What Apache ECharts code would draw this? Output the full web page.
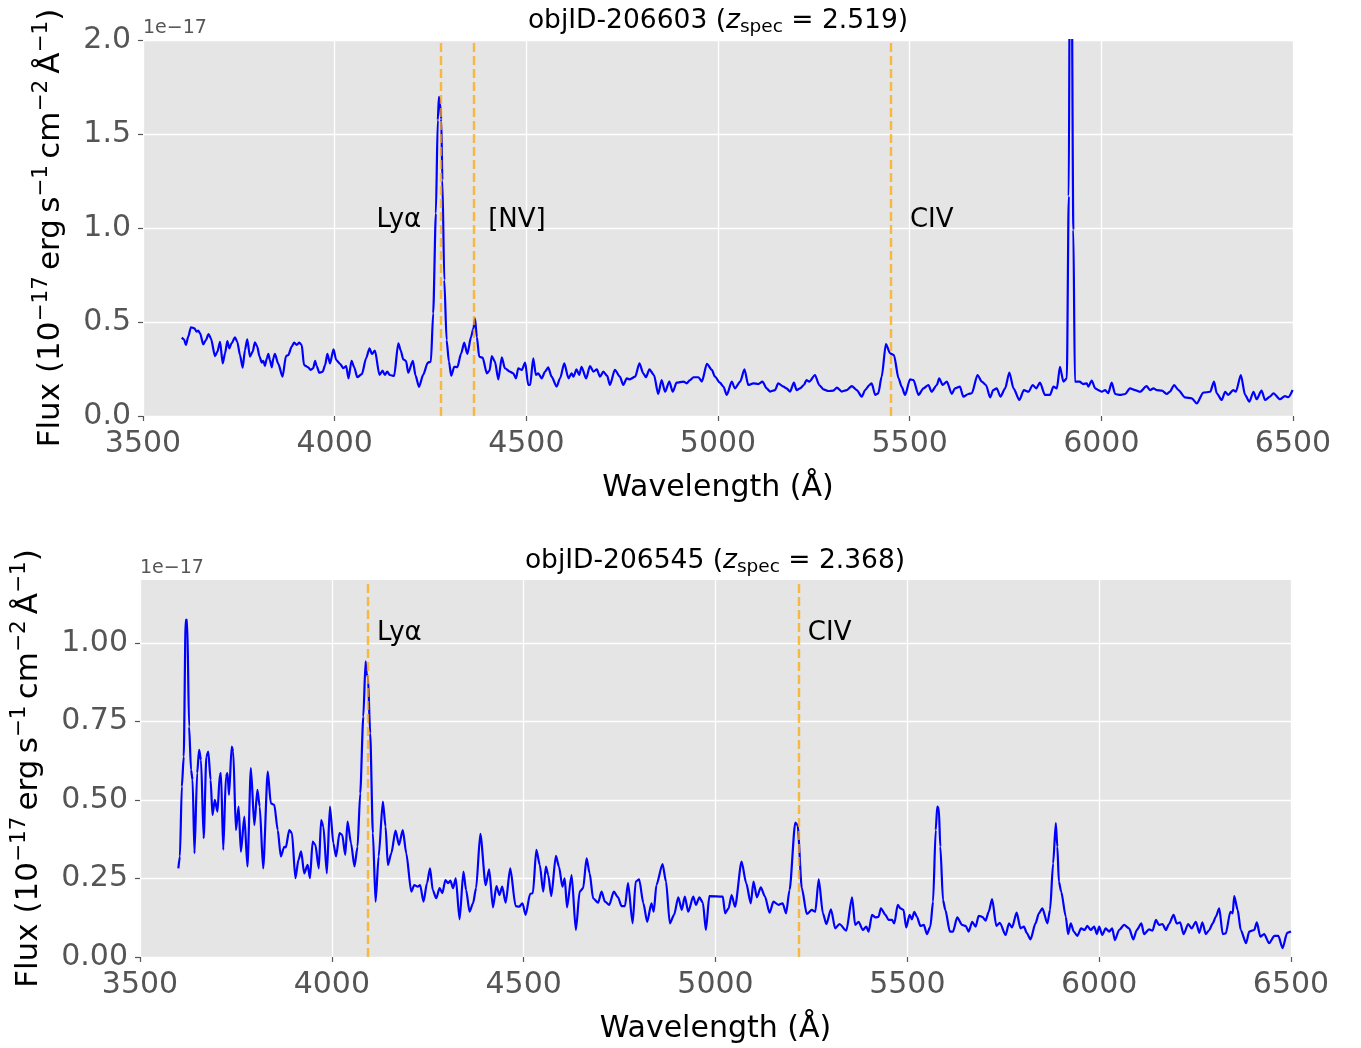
<!DOCTYPE html>
<html>
<head>
<meta charset="utf-8">
<script src="https://cdn.jsdelivr.net/npm/echarts@6/dist/echarts.min.js"></script>
<style>
  html, body { margin: 0; padding: 0; background: #ffffff; }
  #chart { width: 1361px; height: 1048px; }
</style>
</head>
<body>
<div id="chart"></div>
<script>
// ---- Spectrum of objID-206603 (flux in units of 1e-17 erg/s/cm^2/A) ----
const waveTop = [
  3601,3607,3612,3618,3625,3634,3640,3644,3649,3657,3664,3671,3677,3688,3694,3701,3708,3714,3720,3725,
  3731,3740,3746,3753,3760,3766,3772,3779,3786,3792,3798,3804,3810,3814,3818,3823,3827,3831,3836,3840,
  3844,3853,3864,3873,3879,3888,3894,3901,3908,3914,3920,3931,3937,3944,3949,3953,3960,3969,3975,3981,
  3988,3997,4004,4014,4023,4030,4036,4044,4051,4059,4071,4082,4091,4097,4105,4117,4125,4131,4137,4144,
  4155,4166,4172,4179,4186,4192,4204,4211,4220,4231,4243,4251,4257,4264,4269,4272,4275,4278,4281,4286,
  4292,4298,4304,4312,4320,4330,4338,4346,4356,4362,4366,4371,4377,4386,4397,4404,4410,4418,4427,4436,
  4444,4457,4466,4473,4479,4488,4497,4505,4510,4518,4525,4531,4540,4549,4557,4566,4579,4588,4599,4610,
  4618,4623,4631,4638,4644,4656,4666,4675,4684,4692,4701,4711,4718,4731,4744,4753,4762,4770,4784,4795,
  4805,4812,4821,4833,4844,4853,4862,4873,4882,4892,4910,4918,4927,4936,4949,4958,4971,4984,4992,5005,
  5014,5023,5036,5044,5058,5069,5079,5092,5105,5116,5127,5136,5149,5157,5171,5179,5188,5198,5205,5214,
  5224,5231,5238,5253,5264,5275,5288,5301,5310,5323,5336,5349,5362,5375,5384,5395,5401,5410,5418,5427,
  5438,5449,5459,5471,5479,5488,5501,5510,5523,5536,5549,5557,5571,5577,5586,5597,5610,5618,5631,5640,
  5653,5662,5677,5688,5699,5710,5718,5727,5737,5749,5760,5771,5786,5798,5810,5821,5830,5840,5853,5866,
  5875,5884,5892,5901,5910,5915,5918,5922,5927,5931,5943,5953,5962,5966,5975,5984,5992,6001,6010,6018,
  6027,6036,6049,6062,6075,6088,6101,6118,6127,6136,6144,6158,6171,6179,6190,6201,6218,6236,6249,6266,
  6284,6294,6301,6314,6323,6331,6344,6351,6364,6375,6386,6397,6405,6418,6427,6440,6449,6466,6479,6488,
  6499
];
const fluxTop = [
  0.417,0.408,0.378,0.422,0.472,0.466,0.449,0.454,0.440,0.381,0.404,0.436,0.413,0.319,0.342,0.395,0.280,0.333,0.399,0.360,
  0.387,0.418,0.395,0.324,0.257,0.351,0.408,0.316,0.342,0.392,0.369,0.316,0.284,0.294,0.266,0.307,0.330,0.298,0.259,0.307,
  0.330,0.277,0.209,0.319,0.324,0.369,0.390,0.378,0.390,0.378,0.271,0.259,0.245,0.254,0.293,0.266,0.230,0.236,0.271,0.330,
  0.280,0.355,0.298,0.277,0.254,0.266,0.200,0.294,0.259,0.206,0.223,0.307,0.360,0.330,0.348,0.218,0.241,0.218,0.236,0.218,
  0.213,0.387,0.351,0.301,0.294,0.230,0.294,0.215,0.155,0.220,0.284,0.289,0.546,1.078,1.574,1.698,1.660,1.580,1.255,0.723,
  0.404,0.290,0.215,0.262,0.260,0.333,0.390,0.330,0.422,0.466,0.520,0.420,0.316,0.310,0.227,0.241,0.319,0.289,0.195,0.312,
  0.254,0.236,0.227,0.200,0.254,0.245,0.284,0.165,0.165,0.307,0.218,0.227,0.200,0.236,0.259,0.209,0.156,0.200,0.280,0.200,
  0.227,0.209,0.248,0.218,0.262,0.200,0.266,0.236,0.248,0.209,0.236,0.213,0.165,0.245,0.209,0.165,0.200,0.195,0.209,0.280,
  0.227,0.206,0.248,0.218,0.117,0.191,0.129,0.183,0.129,0.177,0.183,0.174,0.191,0.206,0.206,0.183,0.277,0.245,0.209,0.177,
  0.156,0.112,0.183,0.147,0.183,0.248,0.165,0.174,0.170,0.183,0.147,0.130,0.138,0.174,0.156,0.147,0.130,0.177,0.138,0.147,
  0.165,0.191,0.183,0.218,0.165,0.142,0.133,0.135,0.151,0.130,0.138,0.159,0.138,0.103,0.138,0.165,0.174,0.112,0.120,0.209,
  0.383,0.333,0.324,0.200,0.156,0.112,0.195,0.191,0.112,0.147,0.165,0.129,0.165,0.200,0.165,0.183,0.117,0.147,0.156,0.103,
  0.117,0.121,0.218,0.183,0.165,0.099,0.138,0.147,0.103,0.147,0.231,0.147,0.085,0.138,0.129,0.165,0.147,0.177,0.112,0.112,
  0.156,0.147,0.262,0.183,0.200,1.170,2.600,2.600,0.990,0.183,0.183,0.170,0.174,0.156,0.188,0.147,0.138,0.129,0.138,0.121,
  0.177,0.117,0.112,0.117,0.147,0.138,0.129,0.159,0.138,0.147,0.138,0.135,0.117,0.130,0.165,0.138,0.099,0.094,0.067,0.124,
  0.129,0.183,0.121,0.085,0.129,0.112,0.138,0.129,0.218,0.112,0.076,0.129,0.089,0.135,0.085,0.103,0.121,0.089,0.106,0.100,
  0.138
];

// ---- Spectrum of objID-206545 ----
const waveBottom = [
  3600,3604,3609,3614,3619,3623,3628,3633,3637,3642,3649,3654,3659,3666,3673,3678,3684,3689,3695,3702,
  3708,3711,3717,3724,3728,3732,3739,3743,3750,3757,3763,3772,3780,3789,3798,3806,3812,3821,3833,3841,
  3850,3859,3867,3876,3880,3889,3896,3905,3913,3920,3928,3937,3943,3950,3957,3966,3972,3978,3987,3995,
  4004,4011,4020,4027,4035,4041,4050,4059,4067,4074,4082,4088,4091,4094,4100,4107,4114,4122,4133,4140,
  4146,4155,4166,4175,4185,4194,4207,4215,4224,4230,4239,4248,4256,4263,4272,4281,4288,4296,4303,4309,
  4316,4323,4333,4343,4350,4359,4368,4376,4387,4401,4410,4420,4429,4437,4444,4453,4465,4479,4488,4497,
  4505,4517,4524,4533,4542,4551,4558,4564,4572,4584,4592,4601,4607,4613,4625,4636,4646,4655,4664,4672,
  4681,4694,4703,4712,4723,4735,4746,4755,4764,4772,4784,4792,4801,4812,4822,4833,4839,4846,4862,4871,
  4881,4892,4903,4912,4920,4929,4942,4949,4958,4967,4975,4984,5019,5025,5034,5042,5051,5068,5080,5092,
  5099,5108,5118,5129,5141,5151,5164,5175,5184,5193,5208,5214,5225,5238,5251,5260,5269,5280,5289,5301,
  5312,5323,5341,5356,5364,5373,5384,5393,5399,5408,5417,5425,5431,5443,5451,5460,5466,5475,5482,5490,
  5497,5506,5512,5518,5525,5534,5543,5551,5560,5567,5574,5578,5582,5586,5593,5599,5611,5619,5630,5643,
  5652,5660,5669,5678,5686,5695,5704,5712,5721,5732,5741,5756,5765,5773,5785,5795,5804,5811,5821,5834,
  5843,5852,5865,5872,5880,5887,5891,5895,5901,5913,5919,5926,5934,5943,5953,5962,5969,5978,5987,5994,
  6000,6008,6017,6026,6034,6041,6052,6065,6078,6089,6098,6110,6117,6130,6139,6148,6156,6165,6174,6182,
  6194,6202,6211,6220,6232,6241,6252,6261,6269,6278,6287,6296,6304,6313,6322,6330,6342,6348,6352,6361,
  6369,6383,6391,6404,6411,6420,6430,6443,6457,6467,6478,6490,6500
];
const fluxBottom = [
  0.282,0.320,0.542,0.638,1.073,1.073,0.733,0.596,0.564,0.330,0.585,0.659,0.627,0.378,0.638,0.654,0.564,0.452,0.500,0.463,
  0.580,0.585,0.341,0.574,0.585,0.516,0.670,0.654,0.404,0.479,0.335,0.447,0.288,0.601,0.420,0.532,0.479,0.282,0.590,0.489,
  0.484,0.404,0.320,0.351,0.349,0.404,0.394,0.251,0.309,0.336,0.266,0.293,0.251,0.367,0.357,0.282,0.436,0.415,0.266,0.479,
  0.362,0.320,0.394,0.389,0.325,0.431,0.362,0.288,0.351,0.521,0.765,0.941,0.900,0.893,0.712,0.394,0.176,0.320,0.495,0.415,
  0.293,0.330,0.402,0.357,0.404,0.330,0.208,0.229,0.224,0.229,0.176,0.235,0.282,0.213,0.187,0.219,0.203,0.245,0.235,0.243,
  0.219,0.250,0.120,0.272,0.213,0.144,0.171,0.219,0.392,0.229,0.279,0.158,0.226,0.197,0.224,0.173,0.282,0.162,0.160,0.171,
  0.134,0.201,0.203,0.341,0.293,0.208,0.288,0.261,0.194,0.322,0.288,0.224,0.250,0.158,0.261,0.086,0.208,0.219,0.314,0.266,
  0.187,0.173,0.208,0.176,0.166,0.208,0.190,0.162,0.162,0.235,0.107,0.240,0.247,0.171,0.112,0.171,0.144,0.229,0.296,0.240,
  0.107,0.134,0.190,0.150,0.192,0.144,0.192,0.166,0.190,0.173,0.086,0.194,0.192,0.139,0.155,0.197,0.160,0.304,0.235,0.171,
  0.240,0.190,0.222,0.192,0.141,0.176,0.166,0.171,0.139,0.213,0.428,0.420,0.219,0.137,0.150,0.144,0.247,0.139,0.105,0.152,
  0.091,0.105,0.084,0.190,0.102,0.112,0.086,0.097,0.081,0.134,0.126,0.128,0.155,0.134,0.118,0.118,0.107,0.166,0.155,0.150,
  0.094,0.134,0.120,0.144,0.128,0.099,0.102,0.073,0.097,0.176,0.404,0.479,0.473,0.351,0.181,0.150,0.081,0.081,0.126,0.102,
  0.099,0.081,0.112,0.097,0.131,0.128,0.116,0.144,0.184,0.099,0.109,0.070,0.107,0.094,0.141,0.091,0.097,0.077,0.056,0.107,
  0.139,0.155,0.107,0.150,0.298,0.426,0.351,0.240,0.208,0.128,0.073,0.107,0.081,0.067,0.091,0.086,0.099,0.086,0.097,0.073,
  0.097,0.070,0.091,0.081,0.091,0.054,0.086,0.102,0.091,0.056,0.086,0.107,0.073,0.088,0.084,0.118,0.102,0.105,0.086,0.105,
  0.134,0.107,0.110,0.073,0.105,0.091,0.112,0.077,0.110,0.073,0.086,0.107,0.128,0.155,0.073,0.075,0.144,0.139,0.194,0.150,
  0.086,0.044,0.081,0.086,0.110,0.065,0.073,0.044,0.067,0.067,0.028,0.077,0.081
];

// Redshifts and emission lines (rest-frame wavelengths in Angstrom)
const zTop = 2.519;
const zBottom = 2.368;
const linesTop = [
  { name: 'Lyα',  rest: 1215.67, side: 'left',  gap: 20 },
  { name: '[NV]', rest: 1240.14, side: 'right', gap: 14 },
  { name: 'CIV',  rest: 1549.06, side: 'right', gap: 19 }
];
const linesBottom = [
  { name: 'Lyα', rest: 1215.67, side: 'right', gap: 9 },
  { name: 'CIV', rest: 1549.06, side: 'right', gap: 9 }
];
const labelYTop = 1.04;
const labelYBottom = 1.03;

// Axis ticks
const xTicks = [3500, 4000, 4500, 5000, 5500, 6000, 6500];
const yTicksTop = [0, 0.5, 1.0, 1.5, 2.0];
const yTicksBottom = [0, 0.25, 0.5, 0.75, 1.0];

// ---- styling ----
const FONT = 'DejaVu Sans';
const TICK_GREY = '#555555';
const PANEL_BG = '#e5e5e5';

const zip = (a, b) => a.map((v, i) => [v, b[i]]);

const yName = 'Flux (10{sup|−17}\u2009erg\u2009s{sup|−1}\u2009cm{sup|−2}\u2009Å{sup|−1})';
const yNameStyle = {
  fontFamily: FONT, fontSize: 31, color: '#000', lineHeight: 42,
  rich: { sup: { fontFamily: FONT, fontSize: 21.5, lineHeight: 21, verticalAlign: 'top', color: '#000' } }
};

function xAxisFor(gridIndex) {
  return {
    type: 'value', gridIndex, min: xTicks[0], max: xTicks[xTicks.length - 1], interval: 500,
    axisLine: { show: false },
    axisTick: { show: true, length: 5, lineStyle: { color: TICK_GREY, width: 1.2 }, customValues: xTicks },
    axisLabel: {
      fontFamily: FONT, fontSize: 30, color: TICK_GREY, margin: 13, customValues: xTicks,
      formatter: v => String(Math.round(v))
    },
    splitLine: { show: true, lineStyle: { color: '#ffffff', width: 1.3 } },
    name: 'Wavelength (Å)', nameLocation: 'middle', nameGap: 57,
    nameTextStyle: { fontFamily: FONT, fontSize: 30, color: '#000' }
  };
}

function yAxisFor(gridIndex, ticks, digits, nameGap) {
  return {
    type: 'value', gridIndex, min: 0, max: gridIndex === 0 ? 2.0 : 1.2,
    interval: ticks[1] - ticks[0],
    axisLine: { show: false },
    axisTick: { show: true, length: 5, lineStyle: { color: TICK_GREY, width: 1.2 }, customValues: ticks },
    axisLabel: {
      fontFamily: FONT, fontSize: 30, color: TICK_GREY, margin: 12, customValues: ticks,
      formatter: v => v.toFixed(digits)
    },
    splitLine: { show: true, lineStyle: { color: '#ffffff', width: 1.3 } },
    name: yName, nameLocation: 'middle', nameGap, nameRotate: 90,
    nameTextStyle: yNameStyle
  };
}

function spectrumSeries(idx, wave, flux) {
  return {
    type: 'line', xAxisIndex: idx, yAxisIndex: idx, data: zip(wave, flux),
    showSymbol: false, clip: true, z: 2, smooth: 0.25, smoothMonotone: 'x',
    lineStyle: { color: '#0000ff', width: 2.2 }
  };
}

function lineMarkers(idx, lines, z) {
  return {
    type: 'line', xAxisIndex: idx, yAxisIndex: idx, data: [], z: 3, silent: true,
    markLine: {
      symbol: 'none', silent: true, animation: false,
      label: { show: false },
      lineStyle: { color: '#ffa500', opacity: 0.72, width: 2.4, type: [9, 4] },
      data: lines.map(l => ({ xAxis: l.rest * (1 + z) }))
    }
  };
}

function lineLabels(idx, lines, z, yPos) {
  return {
    type: 'scatter', xAxisIndex: idx, yAxisIndex: idx, symbolSize: 0, z: 4, silent: true,
    itemStyle: { opacity: 1 },
    data: lines.map(l => ({
      name: l.name, value: [l.rest * (1 + z), yPos],
      label: { position: l.side, distance: l.gap, color: '#000000' }
    })),
    label: {
      show: true, formatter: p => p.name,
      fontFamily: FONT, fontSize: 26, color: '#000000'
    }
  };
}

function titleText(id, z, x, y) {
  return {
    type: 'text', x, y, z: 10,
    style: {
      text: 'objID-' + id + ' ({it|z}{sub|spec}{eq| = }' + z.toFixed(3) + ')',
      fontFamily: FONT, fontSize: 26.5, fill: '#000', align: 'center', verticalAlign: 'middle',
      lineHeight: 32,
      rich: {
        it: { fontFamily: FONT, fontSize: 26.5, fontStyle: 'italic', fill: '#000' },
        sub: { fontFamily: FONT, fontSize: 18.5, lineHeight: 18, verticalAlign: 'bottom', fill: '#000' },
        eq: { fontFamily: FONT, fontSize: 26.5, fill: '#000' }
      }
    }
  };
}

function offsetText(x, y) {
  return {
    type: 'text', x, y, z: 10,
    style: { text: '1e−17', fontFamily: FONT, fontSize: 19, fill: TICK_GREY, align: 'left', verticalAlign: 'middle' }
  };
}

const chart = echarts.init(document.getElementById('chart'), null, { renderer: 'canvas' });
chart.setOption({
  animation: false,
  backgroundColor: '#ffffff',
  grid: [
    { left: 143, top: 40, width: 1150, height: 376, show: true, backgroundColor: PANEL_BG, borderWidth: 0 },
    { left: 140, top: 580, width: 1151, height: 377, show: true, backgroundColor: PANEL_BG, borderWidth: 0 }
  ],
  xAxis: [xAxisFor(0), xAxisFor(1)],
  yAxis: [yAxisFor(0, yTicksTop, 1, 70), yAxisFor(1, yTicksBottom, 2, 90)],
  series: [
    spectrumSeries(0, waveTop, fluxTop),
    spectrumSeries(1, waveBottom, fluxBottom),
    lineMarkers(0, linesTop, zTop),
    lineMarkers(1, linesBottom, zBottom),
    lineLabels(0, linesTop, zTop, labelYTop),
    lineLabels(1, linesBottom, zBottom, labelYBottom)
  ],
  graphic: [
    titleText('206603', zTop, 718, 21),
    titleText('206545', zBottom, 715, 561),
    offsetText(143, 28),
    offsetText(140, 568)
  ]
});
</script>
</body>
</html>
